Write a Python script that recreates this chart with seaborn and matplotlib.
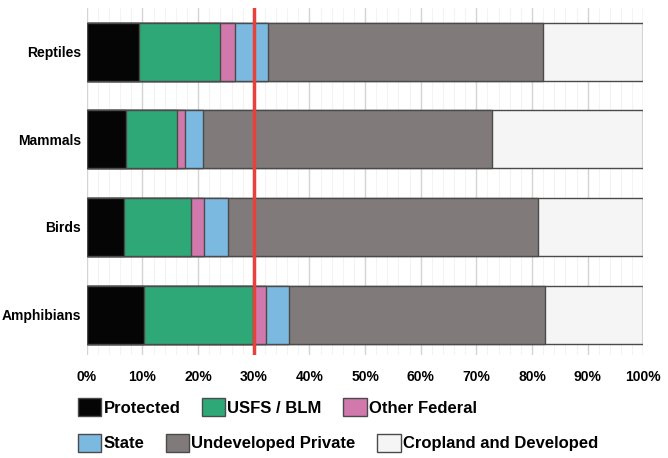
import matplotlib
matplotlib.use("Agg")
import matplotlib.pyplot as plt
import matplotlib.patches as mpatches
import seaborn as sns
import numpy as np
import pandas as pd

taxa = ["Reptiles", "Mammals", "Birds", "Amphibians"]
classes = ["Protected", "USFS / BLM", "Other Federal", "State",
           "Undeveloped Private", "Cropland and Developed"]
protected = [9.3, 7.1, 6.6, 10.3]
usfs_blm = [14.6, 9.1, 12.2, 19.5]
other_federal = [2.8, 1.5, 2.3, 2.4]
state = [5.9, 3.1, 4.2, 4.1]
undeveloped = [49.3, 52.1, 55.7, 46.0]
cropland = [18.1, 27.1, 19.0, 17.7]
threshold = 30

colors = ["#050505", "#2fa878", "#d178ad", "#7cb9e0", "#807b7a", "#f5f5f5"]

sns.set_theme(style="white")
plt.rcParams['font.family'] = ['Liberation Sans Narrow', 'Liberation Sans', 'DejaVu Sans']
plt.rcParams['font.weight'] = 'bold'
plt.rcParams['text.color'] = 'black'
plt.rcParams['xtick.color'] = 'black'
plt.rcParams['ytick.color'] = 'black'

series = [protected, usfs_blm, other_federal, state, undeveloped, cropland]
cum = np.cumsum(np.array(series), axis=0)

fig = plt.figure(figsize=(6.68, 4.58), dpi=100)
ax = fig.add_axes([0.130, 0.225, 0.833, 0.758])

# draw stacked bars from the right end back so each segment sits on top
for i in range(len(classes) - 1, -1, -1):
    df = pd.DataFrame({"taxon": taxa, "value": cum[i]})
    sns.barplot(data=df, x="value", y="taxon", color=colors[i], width=0.66,
                edgecolor="#4a4a4a", linewidth=1, saturation=1, ax=ax, zorder=2)

ax.axvline(threshold, color="#e8403a", lw=2.5, zorder=5)

ax.set_xlim(0, 100)
ax.set_ylim(3.46, -0.5)
ax.set_xticks(np.arange(0, 101, 10))
ax.set_xticks(np.arange(0, 101, 2), minor=True)
ax.set_xticklabels([f"{v}%" for v in range(0, 101, 10)], fontsize=10, fontweight="bold")
ax.set_yticks(range(len(taxa)))
ax.set_yticklabels(taxa, fontsize=10, fontweight="bold")
ax.grid(axis="x", which="major", color="#d4d4d4", lw=1, zorder=0)
ax.grid(axis="x", which="minor", color="#f3f3f3", lw=0.8, zorder=0)
ax.set_axisbelow(True)
ax.tick_params(axis="x", length=0, pad=11)
ax.tick_params(axis="y", length=0, pad=4)
ax.set_xlabel("")
ax.set_ylabel("")
for s in ax.spines.values():
    s.set_visible(False)

handles = [mpatches.Patch(facecolor=c, edgecolor="#4a4a4a", lw=1) for c in colors]
leg_kw = dict(frameon=False, ncol=3, fontsize=12, handlelength=1.4, handleheight=1.3,
              handletextpad=0.12, columnspacing=1.3, borderaxespad=0, borderpad=0)
leg1 = fig.legend(handles[:3], classes[:3], loc="center left",
                  bbox_to_anchor=(0.117, 0.111), **leg_kw)
leg2 = fig.legend(handles[3:], classes[3:], loc="center left",
                  bbox_to_anchor=(0.117, 0.033), **leg_kw)

fig.savefig("out.png", dpi=100)
